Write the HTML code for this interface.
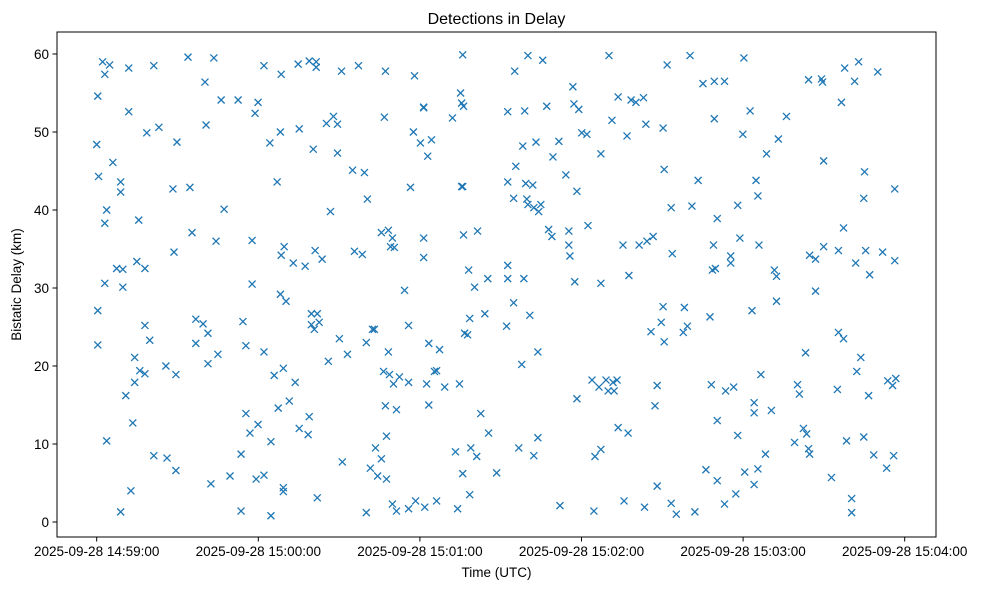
<!DOCTYPE html>
<html><head><meta charset="utf-8"><style>
html,body{margin:0;padding:0;background:#fff;}
svg{display:block;font-family:"Liberation Sans","DejaVu Sans",sans-serif;}
</style></head><body>
<svg id="chart" width="986" height="590" viewBox="0 0 986 590" xmlns="http://www.w3.org/2000/svg">
<rect x="0" y="0" width="986" height="590" fill="#fff"/>
<text x="496.5" y="24" text-anchor="middle" font-size="16" fill="#000">Detections in Delay</text>
<g id="marks"></g>
<rect x="57" y="32" width="879" height="505" fill="none" stroke="#000" stroke-width="1"/>
<g id="xaxis"></g>
<g id="yaxis"></g>
<text x="496.5" y="577" text-anchor="middle" font-size="13.5">Time (UTC)</text>
<text transform="translate(21,284.5) rotate(-90)" text-anchor="middle" font-size="13.5">Bistatic Delay (km)</text>
</svg>
<script>
const xTickValues=[0,60,120,180,240,300];
const xTickLabels=["2025-09-28 14:59:00","2025-09-28 15:00:00","2025-09-28 15:01:00","2025-09-28 15:02:00","2025-09-28 15:03:00","2025-09-28 15:04:00"];
const yTickValues=[0,10,20,30,40,50,60];
const timeSec=[0,0.7,0.4,0.4,0.4,2.2,3,3,3.7,3,3.7,4.8,6,7.4,8.9,8.9,9.7,9.7,8.9,10.8,11.9,11.9,12.7,13.4,14.1,14.1,14.9,15.6,16,17.9,17.9,17.9,18.6,19.7,21.2,21.2,23.1,25.7,26.1,28.3,28.7,29.4,29.8,29.4,
33.9,34.6,35.4,36.8,36.8,39.5,40.2,40.6,41.3,41.3,42.4,43.5,44.3,45,46.2,47.3,49.5,52.5,53.6,53.6,54.3,55.4,55.4,56.9,57.7,57.7,58.8,59.9,59.2,59.9,62.1,62.1,62.1,64.3,64.7,64.7,65.9,67,67.4,68.2,68.5,68.2,68.5,69.3,69.3,69.6,70.3,69.3,71.5,73,73.7,74.8,75.2,75.2,77.4,78.5,78.9,78.9,79.7,79.7,80.4,80.8,81.5,81.5,81.1,81.9,82.6,81.9,83.7,85.3,86,86.8,87.9,89.4,89.4,90.1,90.9,91.2,93.1,95,95.7,97.2,98.6,99.4,100.1,100.1,100.5,101.6,102.4,103.1,103.5,104.3,105.7,105.7,106.5,106.8,107.2,107.2,107.6,107.6,108.3,108.3,108.7,109.1,109.8,110.2,109.8,110.5,111.3,111.3,112.4,114.3,115.8,115.8,115.8,116.5,117.6,118,118.4,120.2,121.4,121.4,121.4,121.4,121.8,122.5,122.9,123.3,123.3,124.3,125.4,126.2,126.2,127.3,129.2,132.1,133.2,134,134.7,135.1,135.5,136.2,135.9,135.5,135.9,135.9,136.2,136.6,137.7,138.1,138.5,138.5,138.9,140.3,141.1,141.4,142.6,144.1,145.2,145.5,148.5,
152.6,152.6,152.6,152.6,152.2,154.8,155.2,155.6,154.8,156.7,157.8,158.2,158.6,158.9,159.3,159.7,160.1,160.1,160.8,161.9,162.3,162.3,163.1,163.8,163.8,164.1,164.9,165.6,167.1,167.8,169.4,169,171.6,172,174.2,175.3,175.3,175.7,176.8,177.2,178.3,177.5,179,178.3,180.1,182,182.4,183.9,184.6,185,186.5,187.2,187.2,187.2,189.1,189.9,190.2,191.3,191.7,192.1,193.2,193.6,193.6,195.4,195.8,196.9,197.3,197.6,198.4,200.2,201.4,203,203.4,204.3,203.9,205.8,206.6,207.3,208.1,208.1,209.6,210.3,210.3,210.7,210.7,211.8,213.3,213.3,213.7,215.2,217.8,218.2,219.3,220.3,221,222.1,223.3,225.1,226.2,227.7,228.2,228.6,229,229.3,229.3,229.7,230.4,230.4,230.4,233.1,233.1,233.5,235.4,235.4,236.5,237.3,238,238,238.8,239.9,240.3,240.6,242.6,243.3,244.1,244.1,244.1,244.8,245.5,245.5,245.9,246.6,248.3,248.7,250.5,251.6,252.4,252.4,253.1,256.1,259.1,260.2,260.9,262.4,263.2,263.6,264.3,264.3,264.7,264.7,266.9,266.9,269.1,269.5,269.9,269.9,272.8,275,275.4,275.4,276.5,277.3,277.7,278.4,280.3,280.3,281.4,281.8,282.2,282.9,283.7,284.8,284.8,285.1,285.5,286.6,287,288.5,290,291.8,293.3,293.7,295.5,295.9,296.3,296.3,296.7,277.3];
const delayKm=[48.4,44.3,27.1,22.7,54.6,59,57.4,38.3,40,30.6,10.4,58.6,46.1,32.5,43.6,42.3,32.4,30.1,1.3,16.2,58.2,52.6,4,12.7,21.1,17.9,33.4,38.7,19.4,32.5,25.2,19,49.9,23.3,58.5,8.5,50.6,20,8.2,42.7,34.6,18.9,48.7,6.6,
59.6,42.9,37.1,26,22.9,25.4,56.4,50.9,24.2,20.3,4.9,59.5,36,21.5,54.1,40.1,5.9,54.1,8.7,1.4,25.7,22.6,13.9,11.4,36.1,30.5,52.4,53.8,5.5,12.5,58.5,21.8,6,48.6,0.8,10.3,18.8,43.6,14.6,50,57.4,29.2,34.2,3.9,4.4,35.3,28.3,19.7,15.5,33.2,17.9,58.7,50.4,12,32.8,11.2,59.1,13.5,25.3,26.7,47.8,24.7,59,58.3,34.8,26.7,25.6,3.1,33.7,51.1,20.6,39.8,52,51,47.3,23.5,57.8,7.7,21.5,45.1,34.7,58.5,34.3,44.8,23,1.2,41.4,6.9,24.7,24.7,9.5,5.9,37.1,8.1,19.3,51.9,57.8,14.9,11,5.5,37.4,21.8,18.9,35.3,36.4,17.7,2.3,35.2,14.4,1.4,18.6,29.7,25.2,1.7,17.9,42.9,50,57.2,2.7,48.6,53.1,53.2,33.9,36.4,1.9,17.7,46.9,22.9,15,49,19.3,19.4,2.7,22.1,17.3,51.8,9,1.7,17.7,55,53.7,53.3,59.9,43,43,6.2,36.8,24.2,24,32.3,26.1,3.5,9.5,30.1,8.4,37.3,13.9,26.7,31.2,11.4,6.3,
43.6,32.9,31.2,52.6,25.1,28.1,57.8,45.6,41.5,9.5,20.2,48.2,31.2,52.7,43.4,41.4,59.8,40.7,26.5,43.2,40.3,8.5,48.7,10.8,21.8,39.8,40.7,59.2,53.3,37.5,46.8,36.6,48.8,2.1,44.5,37.3,35.5,34.1,55.8,53.6,42.4,30.8,52.9,15.8,49.9,49.7,38,18.2,1.4,8.4,17.3,9.3,47.2,30.6,18.2,16.8,59.8,51.5,17.9,16.8,18.2,54.5,12.1,35.5,2.7,49.5,11.4,31.6,54.1,53.8,35.5,54.4,1.9,36,51,24.4,36.6,14.9,17.5,4.6,25.6,27.6,50.5,23.1,45.2,58.6,40.3,2.4,34.4,1,24.3,27.5,25.1,59.8,40.5,1.3,43.8,56.2,6.7,26.3,17.6,32.3,35.5,56.5,51.7,32.5,13,5.3,38.9,56.5,2.3,16.8,33.2,34.1,17.3,3.6,40.6,11.1,36.4,49.7,59.5,6.4,52.7,27.1,15.3,14,4.8,43.8,41.8,6.8,35.5,18.9,8.7,47.2,14.3,32.3,31.5,28.3,49.1,52,10.2,17.6,16.4,12,21.7,11.3,56.7,9.4,8.7,34.2,29.6,33.7,56.8,56.4,46.3,35.3,5.7,17,24.3,34.8,53.8,37.7,58.2,10.4,3,1.2,56.5,33.2,19.3,59,21.1,10.9,41.5,44.9,34.8,16.2,31.7,8.6,57.7,34.6,6.9,18.1,17.5,8.5,42.7,33.5,18.4,23.5];

const NS="http://www.w3.org/2000/svg";
const L=57,R=936,T=32,B=537;
function xScale(t){return 96.7+t*(161.6/60);}
function yScale(d){return 522-d*7.8;}
const marks=document.getElementById('marks');
for(let i=0;i<Math.min(timeSec.length,delayKm.length);i++){
  const cx=xScale(timeSec[i]),cy=yScale(delayKm[i]);
  const p=document.createElementNS(NS,'path');
  p.setAttribute('d',`M${cx-3.5},${cy-3.5}L${cx+3.5},${cy+3.5}M${cx-3.5},${cy+3.5}L${cx+3.5},${cy-3.5}`);
  p.setAttribute('stroke','#1f77b4');p.setAttribute('stroke-width','1.3');p.setAttribute('fill','none');
  
  
  marks.appendChild(p);
}
const xa=document.getElementById('xaxis');
xTickValues.forEach((v,i)=>{
  const x=xScale(v);
  const ln=document.createElementNS(NS,'line');
  ln.setAttribute('x1',x);ln.setAttribute('x2',x);ln.setAttribute('y1',B);ln.setAttribute('y2',B+4.5);ln.setAttribute('stroke','#000');
  
  
  xa.appendChild(ln);
  const tx=document.createElementNS(NS,'text');
  tx.setAttribute('x',x);tx.setAttribute('y',B+19);tx.setAttribute('text-anchor','middle');tx.setAttribute('font-size','13.5');
  tx.textContent=xTickLabels[i];
  
  
  xa.appendChild(tx);
});
const ya=document.getElementById('yaxis');
yTickValues.forEach(v=>{
  const y=yScale(v);
  const ln=document.createElementNS(NS,'line');
  ln.setAttribute('x1',L-4.5);ln.setAttribute('x2',L);ln.setAttribute('y1',y);ln.setAttribute('y2',y);ln.setAttribute('stroke','#000');
  
  
  ya.appendChild(ln);
  const tx=document.createElementNS(NS,'text');
  tx.setAttribute('x',L-8);tx.setAttribute('y',y+5);tx.setAttribute('text-anchor','end');tx.setAttribute('font-size','13.5');
  tx.textContent=String(v);
  
  
  ya.appendChild(tx);
});
</script>
</body></html>
